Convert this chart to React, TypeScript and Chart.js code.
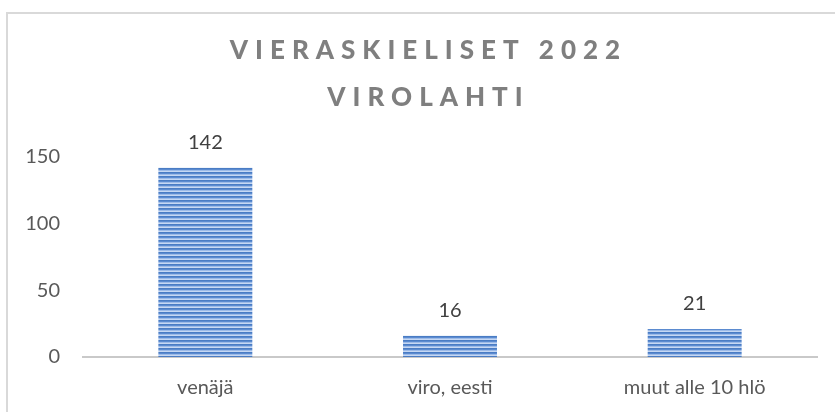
import React, { useEffect, useRef } from "react";
import { Chart, registerables } from "chart.js";

Chart.register(...registerables);

const categories = ["venäjä", "viro, eesti", "muut alle 10 hlö"];
const values = [142, 16, 21];
const yTicks = [0, 50, 100, 150];
const titleLines = ["VIERASKIELISET 2022", "VIROLAHTI"];

function makePattern(): CanvasPattern | string {
  const c = document.createElement("canvas");
  c.width = 4;
  c.height = 4;
  const g = c.getContext("2d");
  if (!g) return "#4f81bd";
  const rows = ["#4a7cc4", "#5b8bd0", "#9dbbe8", "#c6d8f3"];
  rows.forEach((col, i) => {
    g.fillStyle = col;
    g.fillRect(0, i, 4, 1);
  });
  const p = g.createPattern(c, "repeat");
  return p || "#4f81bd";
}

export default function App() {
  const ref = useRef<HTMLCanvasElement>(null);
  useEffect(() => {
    if (!ref.current) return;
    const font = "Lato, 'Open Sans', sans-serif";
    const bgPlugin = {
      id: "bg",
      beforeDraw(chart: any) {
        const ctx = chart.ctx;
        ctx.save();
        ctx.fillStyle = "#ffffff";
        ctx.fillRect(0, 0, chart.width, chart.height);
        ctx.fillStyle = "#d9d9d9";
        ctx.fillRect(6, 12, chart.width - 6, 2);
        ctx.fillRect(6, 12, 2, chart.height - 12);
        ctx.restore();
      },
    };
    const titlePlugin = {
      id: "ttl",
      afterDraw(chart: any) {
        const ctx = chart.ctx;
        ctx.save();
        ctx.font = `900 26px ${font}`;
        ctx.fillStyle = "#7f7f7f";
        ctx.textBaseline = "middle";
        ctx.textAlign = "left";
        const ls = 7;
        (ctx as any).letterSpacing = ls + "px";
        const ys = [51, 98];
        titleLines.forEach((t, i) => {
          const w = ctx.measureText(t).width - ls;
          ctx.fillText(t, 425 - w / 2, ys[i]);
        });
        ctx.restore();
      },
    };
    const labelPlugin = {
      id: "dl",
      afterDatasetsDraw(chart: any) {
        const ctx = chart.ctx;
        const meta = chart.getDatasetMeta(0);
        ctx.save();
        ctx.font = `20px ${font}`;
        ctx.fillStyle = "#404040";
        ctx.textAlign = "center";
        ctx.textBaseline = "middle";
        meta.data.forEach((el: any, i: number) => {
          ctx.fillText(String(values[i]), el.x, el.y - 25);
        });
        ctx.restore();
      },
    };
    const chart = new Chart(ref.current, {
      type: "bar",
      data: {
        labels: categories,
        datasets: [
          {
            data: values,
            backgroundColor: makePattern() as any,
            borderWidth: 0,
            categoryPercentage: 1,
            barPercentage: 0.384,
          },
        ],
      },
      options: {
        responsive: false,
        animation: false,
        devicePixelRatio: 1,
        layout: { padding: { top: 157, right: 18, left: 0, bottom: 0 } },
        plugins: {
          legend: { display: false },
          title: { display: false },
          tooltip: { enabled: false },
        },
        scales: {
          x: {
            grid: { display: false },
            border: { display: true, color: "#c9c9c9", width: 2 },
            ticks: {
              color: "#595959",
              font: { family: font, size: 20 },
              padding: 11,
              maxRotation: 0,
            },
            afterFit(scale: any) {
              scale.height = 55;
            },
          },
          y: {
            min: 0,
            max: 150,
            grid: { display: false, drawTicks: false },
            border: { display: false },
            afterBuildTicks(scale: any) {
              scale.ticks = yTicks.map((v) => ({ value: v }));
            },
            ticks: {
              color: "#595959",
              font: { family: font, size: 20 },
              padding: 23,
            },
            afterFit(scale: any) {
              scale.width = 83;
            },
          },
        },
      },
      plugins: [bgPlugin, titlePlugin, labelPlugin],
    });
    return () => chart.destroy();
  }, []);
  return (
    <div style={{ position: "fixed", left: 0, top: 0, width: 835, height: 412 }}>
      <canvas ref={ref} width={835} height={412} style={{ display: "block" }} />
    </div>
  );
}
